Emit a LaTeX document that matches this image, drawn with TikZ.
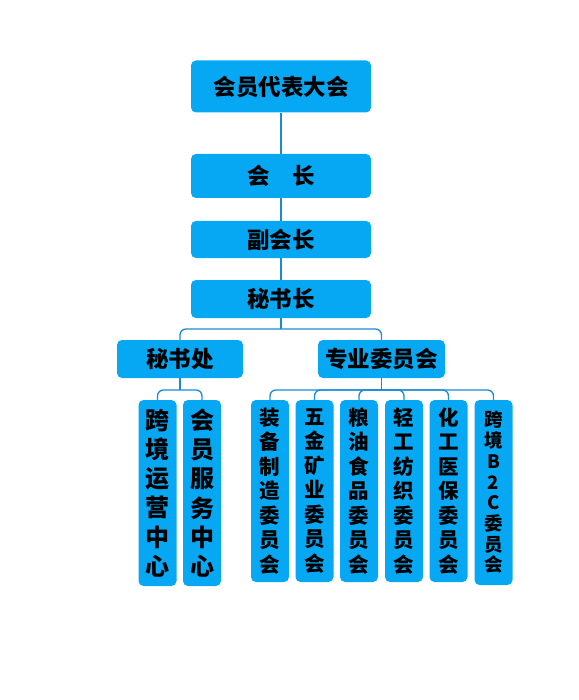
\documentclass[tikz,border=0pt]{standalone}
\usepackage{fontspec}
\setmainfont{Noto Sans CJK SC}
\definecolor{boxfill}{HTML}{06A8F3}
\definecolor{linec}{HTML}{1A8AD4}
\tikzset{
  orgbox/.style={draw=none, fill=boxfill, rounded corners=5pt, inner sep=0pt, text=black, font=\bfseries\fontsize{22.5}{26}\selectfont},
  hbox/.style={orgbox, minimum width=180pt},
  vbox/.style={orgbox, minimum width=38pt, align=center},
  conn/.style={draw=linec, line width=1.3pt},
  rconn/.style={conn, rounded corners=6pt}
}
\begin{document}
\begin{tikzpicture}[x=1pt,y=-1pt]
\useasboundingbox (0,0) rectangle (578,700);
\node[hbox, minimum height=52pt] (hy) at (281,86.5) {会员代表大会};
\node[hbox, minimum height=44pt] (hz) at (281,176) {会\hspace{1em}长};
\node[hbox, minimum height=37pt] (fhz) at (281,239.5) {副会长};
\node[hbox, minimum height=38pt] (msz) at (281,299) {秘书长};
\node[orgbox, minimum width=126pt, minimum height=38pt] (msc) at (180,359) {秘书处};
\node[orgbox, minimum width=127pt, minimum height=38pt] (zy) at (381.5,359) {专业委员会};
\node[vbox, minimum height=186pt, font=\bfseries\fontsize{24}{29.2}\selectfont] (c1) at (157.5,493) {跨\\境\\运\\营\\中\\心};
\node[vbox, minimum height=186pt, font=\bfseries\fontsize{24}{29.2}\selectfont] (c2) at (202,493) {会\\员\\服\\务\\中\\心};
\node[vbox, minimum height=182pt, font=\bfseries\fontsize{20.5}{24.5}\selectfont] (w1) at (270,491) {装\\备\\制\\造\\委\\员\\会};
\node[vbox, minimum height=182pt, font=\bfseries\fontsize{20.5}{24.5}\selectfont] (w2) at (314.5,491) {五\\金\\矿\\业\\委\\员\\会};
\node[vbox, minimum height=182pt, font=\bfseries\fontsize{20.5}{24.5}\selectfont] (w3) at (359,491) {粮\\油\\食\\品\\委\\员\\会};
\node[vbox, minimum height=182pt, font=\bfseries\fontsize{20.5}{24.5}\selectfont] (w4) at (404,491) {轻\\工\\纺\\织\\委\\员\\会};
\node[vbox, minimum height=182pt, font=\bfseries\fontsize{20.5}{24.5}\selectfont] (w5) at (448.5,491) {化\\工\\医\\保\\委\\员\\会};
\node[vbox, minimum height=185pt, font=\bfseries\fontsize{18.5}{20.7}\selectfont] (w6) at (493.5,492.5) {跨\\境\\B\\2\\C\\委\\员\\会};
\draw[conn] (hy.south) -- (hz.north);
\draw[conn] (hz.south) -- (fhz.north);
\draw[conn] (fhz.south) -- (msz.north);
\coordinate (j1) at (281,329);
\draw[conn] (msz.south) -- (j1);
\draw[rconn] (j1) -| (msc.north);
\draw[rconn] (j1) -| (zy.north);
\coordinate (j2) at (180,390);
\draw[conn] (msc.south) -- (j2);
\draw[rconn] (j2) -| (c1.north);
\draw[rconn] (j2) -| (c2.north);
\coordinate (j3) at (381.5,390);
\draw[conn] (zy.south) -- (j3);
\foreach \n in {w1,w2,w3,w4,w5,w6} {
  \draw[rconn] (j3) -| (\n.north);
}
\end{tikzpicture}
\end{document}
